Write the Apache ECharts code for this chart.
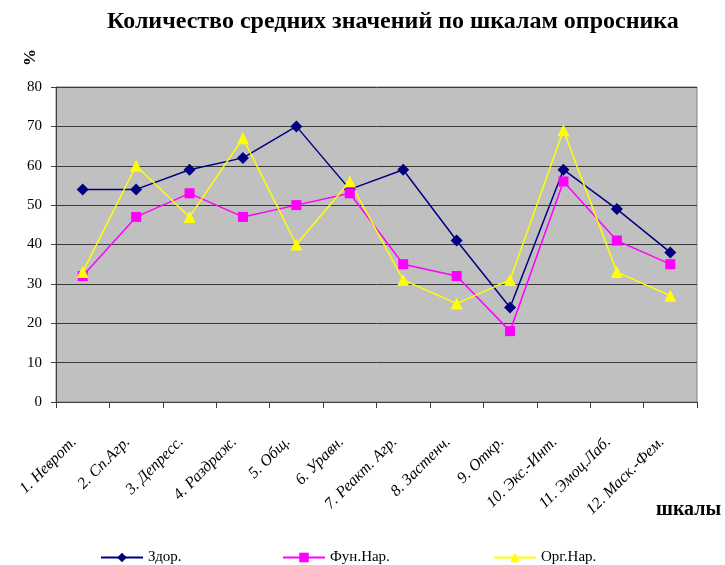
<!DOCTYPE html>
<html>
<head>
<meta charset="utf-8">
<script src="https://cdn.jsdelivr.net/npm/echarts@6/dist/echarts.min.js"></script>
<style>
  html, body { margin: 0; padding: 0; background: #fff; }
  #chart { width: 725px; height: 565px; }
</style>
</head>
<body>
<div id="chart"></div>
<script>
// Шкалы опросника
const categories = [
  '1. Неврот.', '2. Сп.Агр.', '3. Депресс.', '4. Раздраж.', '5. Общ.', '6. Уравн.',
  '7. Реакт. Агр.', '8. Застенч.', '9. Откр.', '10. Экс.-Инт.', '11. Эмоц.Лаб.', '12. Маск.-Фем.'
];
// Значения по группам, %
const zdor = [54, 54, 59, 62, 70, 54, 59, 41, 24, 59, 49, 38];
const funNar = [32, 47, 53, 47, 50, 53, 35, 32, 18, 56, 41, 35];
const orgNar = [33, 60, 47, 67, 40, 56, 31, 25, 31, 69, 33, 27];
const yTicks = { min: 0, max: 80, interval: 10 };

const serif = '"Liberation Serif", "DejaVu Serif", serif';

const chart = echarts.init(document.getElementById('chart'), null, { renderer: 'canvas' });

function legendFor(name, left) {
  return {
    data: [name],
    left: left,
    top: 550,
    itemWidth: 42,
    itemHeight: 12,
    itemGap: 0,
    padding: 0,
    textStyle: { fontFamily: serif, fontSize: 15, color: '#000' }
  };
}

function lineSeries(name, data, color, symbol, size) {
  return {
    name: name,
    type: 'line',
    data: data,
    symbol: symbol,
    symbolSize: size,
    showSymbol: true,
    lineStyle: { color: color, width: 1.5 },
    itemStyle: { color: color, borderWidth: 0 },
    emphasis: { disabled: true },
    animation: false
  };
}

chart.setOption({
  animation: false,
  backgroundColor: '#ffffff',
  grid: {
    left: 56, right: 28, top: 87, bottom: 163,
    show: true,
    backgroundColor: '#c0c0c0',
    borderColor: '#808080',
    borderWidth: 1
  },
  legend: [
    legendFor('Здор.', 100),
    legendFor('Фун.Нар.', 282),
    legendFor('Орг.Нар.', 493)
  ],
  graphic: [
    {
      type: 'text',
      left: 107, top: 10,
      style: {
        text: 'Количество средних значений по шкалам опросника',
        font: 'bold 24px ' + serif,
        fill: '#000'
      }
    },
    {
      type: 'text',
      x: 22, y: 66,
      rotation: Math.PI / 2,
      style: {
        text: '%',
        font: 'bold 17px ' + serif,
        fill: '#000'
      }
    },
    {
      type: 'text',
      left: 656, top: 500,
      style: {
        text: 'шкалы',
        font: 'bold 20px ' + serif,
        fill: '#000'
      }
    }
  ],
  xAxis: {
    type: 'category',
    data: categories,
    boundaryGap: true,
    axisLine: { show: true, lineStyle: { color: '#404040', width: 1 } },
    axisTick: { show: true, inside: false, length: 6, alignWithLabel: false, lineStyle: { color: '#404040' } },
    axisLabel: {
      interval: 0,
      rotate: 45,
      margin: 29,
      padding: [0, 12, 0, 0],
      fontFamily: serif,
      fontStyle: 'italic',
      fontSize: 16,
      color: '#000'
    },
    splitLine: { show: false }
  },
  yAxis: {
    type: 'value',
    min: yTicks.min,
    max: yTicks.max,
    interval: yTicks.interval,
    axisLine: { show: true, lineStyle: { color: '#404040', width: 1 } },
    axisTick: { show: true, inside: false, length: 5, lineStyle: { color: '#404040' } },
    axisLabel: {
      margin: 14,
      fontFamily: serif,
      fontSize: 15,
      color: '#000'
    },
    splitLine: { show: true, lineStyle: { color: '#3a3a3a', width: 1 } }
  },
  series: [
    lineSeries('Здор.', zdor, '#000080', 'diamond', 12),
    lineSeries('Фун.Нар.', funNar, '#ff00ff', 'rect', 10),
    lineSeries('Орг.Нар.', orgNar, '#ffff00', 'triangle', 12)
  ]
});
</script>
</body>
</html>
